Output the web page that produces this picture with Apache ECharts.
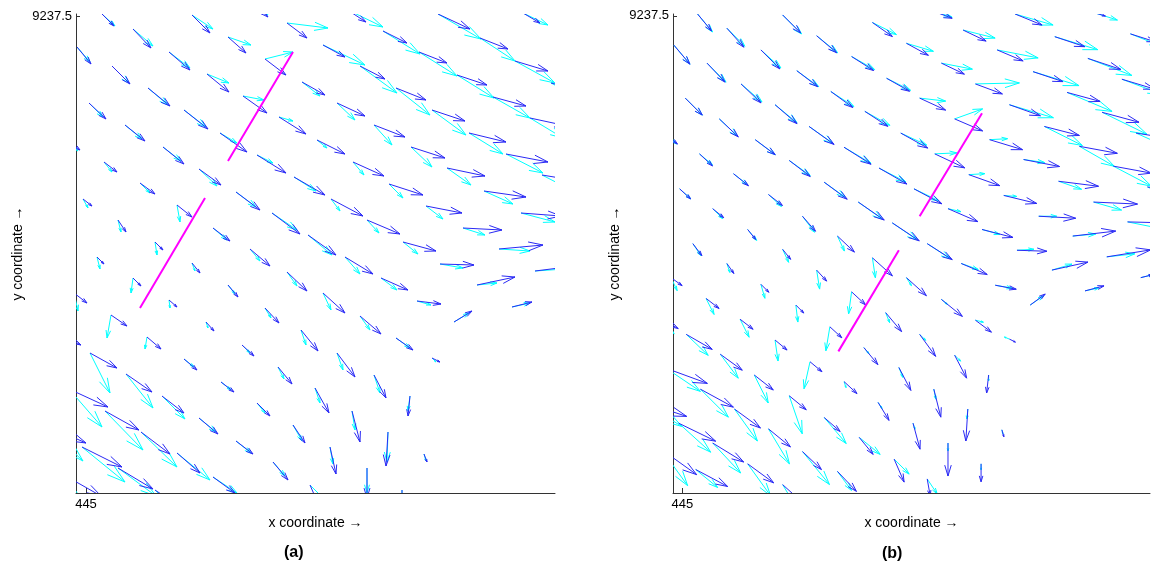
<!DOCTYPE html>
<html><head><meta charset="utf-8">
<script src="https://cdn.jsdelivr.net/npm/echarts@6/dist/echarts.min.js"></script>
<style>html,body{margin:0;padding:0;background:#fff}#c{width:1151px;height:568px}</style>
</head><body><div id="c"></div>
<script>
// Mesh node coordinates (easting / northing, metres)
const baseX = [445437,445474,445352,445394,445429,445465,445260,445297,445333,445371,445407,445444,445480,
445164,445201,445237,445274,445310,445346,445383,445420,445456,445492,
445069,445106,445142,445179,445216,445251,445288,445325,445361,445398,445435,445471,
445016,445047,445083,445121,445157,445193,445231,445267,445303,445340,445377,445413,445449,445485,
444991,445026,445062,445098,445134,445171,445208,445245,445281,445317,445354,445391,445426,
445003,445039,445077,445113,445150,445186,445222,445259,445295,445331,445368,
444982,445018,445054,445091,445127,445164,445201,445237,445274,445310,445346,
444997,445032,445069,445106,445142,445179,445215,445251,445288,445324,
445011,445047,445083,445120,445156,445192,445229,445266,445302,445338,
444988,445025,445061,445098,445135,445171,445207,445244,445281,445316,
444968,445004,445040,445076,445113,445150,445187,445224,445259,
444983,445019,445055,445091,445127,445164,
444959,444996,445032,445069,445106,
444978,445014];
const baseY = [9237503,9237481,9237502,9237478,9237455,9237433,9237507,9237485,9237464,9237441,9237419,9237398,9237376,
9237515,9237493,9237471,9237450,9237428,9237406,9237383,9237362,9237341,9237319,
9237523,9237501,9237479,9237457,9237434,9237413,9237391,9237369,9237348,9237325,9237303,9237282,
9237502,9237487,9237464,9237442,9237420,9237399,9237376,9237354,9237332,9237310,9237288,9237267,9237245,9237223,
9237469,9237450,9237428,9237406,9237383,9237361,9237339,9237317,9237296,9237274,9237252,9237231,9237209,
9237413,9237391,9237369,9237347,9237324,9237303,9237281,9237259,9237238,9237215,9237194,
9237375,9237354,9237333,9237311,9237288,9237267,9237244,9237223,9237200,9237178,9237158,
9237317,9237296,9237274,9237253,9237231,9237208,9237186,9237163,9237141,9237120,
9237259,9237238,9237216,9237194,9237171,9237149,9237128,9237105,9237084,9237062,
9237223,9237201,9237179,9237157,9237134,9237113,9237091,9237069,9237048,9237026,
9237185,9237163,9237142,9237120,9237098,9237075,9237054,9237031,9237010,
9237127,9237105,9237084,9237063,9237039,9237018,
9237091,9237069,9237048,9237026,9237004,
9237041,9237020];

// Panel (a) vectors [u, v]
const blueA = [[17,-10],[25,-8],[32,-15],[28,-11],[33,-10],[35,-9],[20,-13],[24,-12],[28,-11],[30,-10],[33,-9],[37,-8],[40,-7],
[18,-16],[20,-15],[22,-12],[25,-13],[30,-12],[33,-11],[37,-9],[42,-8],[42,-7],[42,-6],
[17,-18],[18,-18],[18,-16],[21,-16],[23,-13],[28,-13],[31,-12],[34,-11],[38,-8],[42,-6],[40,-3],[42,-1],
[12,-12],[18,-19],[21,-18],[22,-18],[24,-17],[27,-17],[28,-14],[31,-14],[34,-11],[36,-7],[39,-2],[44,4],[40,5],[20,4],
[14,-17],[18,-18],[22,-18],[24,-19],[27,-19],[29,-18],[31,-18],[32,-17],[33,-14],[33,-9],[34,-1],[38,8],[20,5],
[17,-16],[20,-16],[21,-17],[22,-16],[24,-18],[28,-21],[28,-20],[28,-17],[27,-12],[24,-3],[18,11],
[12,-9],[13,-10],[15,-11],[15,-12],[17,-13],[20,-17],[20,-19],[22,-20],[21,-18],[17,-12],[8,-4],
[9,-7],[8,-12],[8,-8],[8,-10],[10,-12],[14,-15],[17,-21],[18,-24],[12,-23],[-2,-20],
[7,-7],[8,-8],[8,-7],[8,-9],[12,-11],[14,-17],[14,-25],[8,-31],[-2,-34],[3,-8],
[13,-10],[16,-11],[14,-12],[13,-11],[13,-10],[13,-13],[12,-18],[6,-27],[0,-30],[0,-18],
[27,-14],[27,-15],[26,-18],[22,-17],[19,-16],[17,-13],[15,-18],[10,-23],[3,-17],
[39,-18],[34,-19],[29,-22],[23,-20],[22,-16],[19,-20],
[41,-18],[40,-20],[35,-21],[30,-20],[20,-18],
[37,-21],[34,-18]];
const cyanA = [[25,-12],[30,-12],[43,-25],[35,-23],[40,-22],[38,-20],[37,-18],[37,-23],[38,-24],[37,-23],[37,-21],[33,-20],[35,-19],
[18,-14],[41,-5],[42,-20],[37,-27],[34,-27],[34,-25],[34,-21],[37,-19],[35,-18],[35,-16],
[17,-16],[21,-14],[23,-8],[28,7],[18,-14],[18,-17],[18,-20],[21,-20],[24,-17],[29,-13],[34,-9],[34,-7],
[13,-12],[20,-17],[21,-16],[22,-9],[21,-4],[14,-4],[10,-8],[11,-13],[14,-14],[17,-13],[22,-7],[31,-2],[30,2],[15,3],
[13,-15],[17,-17],[20,-17],[22,-17],[17,-10],[16,-8],[22,-14],[9,-12],[12,-13],[15,-12],[23,-4],[20,2],[18,4],
[14,-14],[17,-14],[18,-14],[18,-17],[20,-15],[25,-17],[24,-20],[15,-17],[16,-12],[14,-4],[15,9],
[10,-10],[8,-10],[10,-10],[3,-17],[14,-12],[10,-12],[10,-14],[8,-17],[10,-14],[14,-10],[4,-4],
[5,-9],[3,-12],[2,-13],[3,-8],[7,-9],[6,-10],[5,-15],[6,-17],[6,-18],[-2,-15],
[3,-12],[-2,-15],[1,-8],[2,-6],[8,-8],[6,-12],[5,-15],[3,-19],[-1,-30],[2,-7],
[4,-18],[-4,-23],[-2,-12],[10,-8],[10,-8],[8,-10],[9,-16],[3,-17],[0,-25],[0,-10],
[18,-36],[20,-40],[27,-34],[23,-23],[17,-14],[15,-12],[12,-14],[15,-15],[10,-15],
[33,-38],[38,-39],[36,-35],[33,-27],[24,-16],[14,-19],
[38,-36],[43,-35],[38,-28],[30,-30],[12,-20],
[28,-38],[22,-18]];

// Panel (b) vectors [u, v]
const blueB = [[10,-3],[25,-8],[27,-11],[30,-10],[33,-11],[33,-10],[24,-9],[23,-11],[26,-11],[30,-10],[33,-9],[37,-10],[38,-6],
[15,-10],[20,-14],[22,-12],[23,-11],[27,-10],[31,-11],[35,-9],[38,-7],[38,-7],[40,-6],
[17,-17],[18,-18],[20,-17],[22,-14],[23,-13],[26,-12],[28,-12],[33,-10],[36,-7],[40,-5],[44,-2],[40,-1],
[14,-17],[17,-19],[19,-19],[21,-16],[22,-16],[23,-15],[27,-15],[30,-14],[31,-11],[33,-8],[37,-2],[43,5],[44,7],[12,3],
[16,-19],[18,-19],[20,-19],[22,-19],[25,-18],[27,-17],[28,-16],[28,-15],[30,-13],[31,-8],[30,-1],[36,8],[19,5],
[17,-17],[19,-18],[20,-15],[21,-16],[23,-17],[26,-18],[27,-18],[25,-16],[26,-11],[21,-4],[15,11],
[12,-10],[13,-12],[15,-12],[14,-11],[13,-15],[17,-16],[20,-18],[20,-18],[21,-17],[16,-12],[6,-3],
[11,-10],[11,-9],[8,-10],[8,-10],[10,-11],[14,-13],[16,-19],[16,-22],[12,-23],[-2,-18],
[9,-12],[7,-10],[8,-8],[8,-8],[12,-11],[14,-17],[12,-23],[7,-28],[-2,-32],[2,-7],
[11,-8],[13,-10],[13,-10],[12,-10],[12,-10],[13,-12],[11,-18],[7,-26],[0,-33],[0,-18],
[26,-15],[26,-15],[22,-16],[19,-15],[17,-14],[16,-14],[14,-17],[10,-23],[3,-17],
[41,-15],[33,-18],[26,-19],[22,-18],[19,-18],[19,-20],
[43,-14],[37,-18],[31,-19],[26,-19],[20,-18],
[35,-25],[32,-17]];
const cyanB = [[22,-7],[30,-12],[38,-11],[43,-13],[44,-17],[40,-15],[24,-8],[32,-8],[41,-8],[46,-14],[45,-19],[45,-22],[40,-18],
[15,-10],[24,-12],[27,-8],[31,-6],[44,1],[44,-13],[38,-19],[35,-20],[38,-20],[38,-18],
[17,-17],[19,-19],[21,-17],[23,-13],[24,-12],[26,-3],[28,10],[18,1],[21,-3],[23,-8],[28,-8],[35,-7],
[15,-18],[18,-18],[20,-18],[22,-16],[23,-15],[25,-14],[26,-12],[22,1],[16,1],[13,-1],[18,0],[23,2],[28,3],[12,3],
[16,-19],[19,-19],[21,-18],[22,-18],[24,-17],[27,-16],[27,-14],[25,-12],[13,-3],[18,-5],[17,1],[20,6],[14,3],
[17,-17],[18,-17],[20,-15],[21,-15],[21,-15],[24,-17],[25,-17],[23,-15],[17,-6],[17,-3],[13,9],
[11,-10],[13,-11],[14,-11],[13,-12],[12,-16],[7,-15],[3,-20],[5,-8],[6,-5],[8,-2],[-5,2],
[11,-10],[10,-10],[9,-11],[6,-13],[3,-19],[-3,-22],[4,-10],[6,-6],[6,-6],[0,-6],
[8,-12],[3,-9],[4,-14],[2,-17],[-4,-24],[5,-6],[4,-10],[2,-10],[-1,-10],[1,-4],
[6,-13],[8,-16],[9,-18],[3,-21],[-6,-27],[2,-6],[4,-6],[2,-6],[0,-8],[0,-6],
[22,-20],[22,-21],[18,-24],[14,-28],[13,-38],[22,-26],[21,-17],[15,-15],[10,-15],
[34,-23],[28,-28],[23,-32],[21,-35],[27,-33],[14,-19],
[38,-24],[32,-29],[28,-30],[23,-32],[12,-20],
[26,-36],[22,-18]];

// Magenta section lines [[x1,y1],[x2,y2]]
const linesA = [[[445142,9237355],[445207,9237464]], [[445054,9237208],[445119,9237318]]];
const linesB = [[[445251,9237288],[445317,9237397]], [[445165,9237145],[445229,9237252]]];

const xTicks = [445000];
const yTicks = [9237500];
const xLabel = 'x coordinate \u2192';
const yLabel = 'y coordinate \u2192';
const panelLabels = ['(a)', '(b)'];

// per-panel quiver scale (panel b is drawn with a wider extent)
const quiverScale = [1, 1/0.945];

const FONT = '"Liberation Sans", Arial, Helvetica, sans-serif';

function arrowSeries(gi, vecs, color) {
  const s = quiverScale[gi];
  return {
    type: 'custom', xAxisIndex: gi, yAxisIndex: gi, silent: true, animation: false,
    data: baseX.map((x, i) => [x, baseY[i], vecs[i][0], vecs[i][1]]),
    encode: { x: 0, y: 1 },
    renderItem(params, api) {
      const x = api.value(0), y = api.value(1);
      const u = api.value(2) * s, v = api.value(3) * s;
      const p0 = api.coord([x, y]), p1 = api.coord([x + u, y + v]);
      const dx = p1[0] - p0[0], dy = p1[1] - p0[1];
      const a = 0.33, b = 0.3;
      const h1 = [p1[0] - a * (dx + b * dy), p1[1] - a * (dy - b * dx)];
      const h2 = [p1[0] - a * (dx - b * dy), p1[1] - a * (dy + b * dx)];
      const cs = params.coordSys;
      const st = { stroke: color, lineWidth: 1, fill: null };
      return {
        type: 'group',
        clipPath: { type: 'rect', shape: { x: cs.x, y: cs.y, width: cs.width, height: cs.height } },
        children: [
          { type: 'polyline', shape: { points: [p0, p1] }, style: st },
          { type: 'polyline', shape: { points: [h1, p1, h2] }, style: st }
        ]
      };
    }
  };
}

function lineSeries(gi, seg) {
  return {
    type: 'line', xAxisIndex: gi, yAxisIndex: gi, data: seg, symbol: 'none', silent: true,
    animation: false, clip: true, lineStyle: { color: '#ff00ff', width: 2 }, z: 5
  };
}

function xAxis(gi, min, max) {
  return {
    type: 'value', gridIndex: gi, min, max, position: 'bottom',
    axisLine: { show: true, onZero: false, lineStyle: { color: '#333', width: 1 } },
    axisTick: { show: true, inside: true, length: 5, customValues: xTicks, lineStyle: { color: '#333' } },
    axisLabel: { customValues: xTicks, formatter: v => String(v / 1000), fontSize: 13, color: '#000', fontFamily: FONT, margin: 5 },
    splitLine: { show: false },
    name: xLabel, nameLocation: 'middle', nameGap: 23,
    nameTextStyle: { fontSize: 14, color: '#000', fontFamily: FONT }
  };
}
function yAxis(gi, min, max) {
  return {
    type: 'value', gridIndex: gi, min, max, position: 'left',
    axisLine: { show: true, onZero: false, lineStyle: { color: '#333', width: 1 } },
    axisTick: { show: true, inside: true, length: 4, customValues: yTicks, lineStyle: { color: '#333' } },
    axisLabel: { customValues: yTicks, formatter: v => String(v / 1000), fontSize: 13, color: '#000', fontFamily: FONT, margin: 4 },
    splitLine: { show: false },
    name: yLabel, nameLocation: 'middle', nameGap: 51, nameRotate: 90,
    nameTextStyle: { fontSize: 14, color: '#000', fontFamily: FONT }
  };
}

const chart = echarts.init(document.getElementById('c'), null, { renderer: 'canvas' });
chart.setOption({
  backgroundColor: '#fff',
  animation: false,
  grid: [
    { left: 76, top: 14, width: 479, height: 479 },
    { left: 673, top: 14, width: 477, height: 479 }
  ],
  xAxis: [xAxis(0, 444990, 445469), xAxis(1, 444990, 444990 + 477 / 0.945)],
  yAxis: [yAxis(0, 9237023, 9237502), yAxis(1, 9237502 - 479 / 0.945, 9237502)],
  graphic: [
    { type: 'text', left: 284, top: 545, style: { text: panelLabels[0], font: 'bold 16px ' + FONT, fill: '#000' } },
    { type: 'text', left: 882, top: 546, style: { text: panelLabels[1], font: 'bold 16px ' + FONT, fill: '#000' } }
  ],
  series: [
    arrowSeries(0, cyanA, '#00ffff'),
    arrowSeries(0, blueA, '#2a2af5'),
    lineSeries(0, linesA[0]), lineSeries(0, linesA[1]),
    arrowSeries(1, cyanB, '#00ffff'),
    arrowSeries(1, blueB, '#2a2af5'),
    lineSeries(1, linesB[0]), lineSeries(1, linesB[1])
  ]
});
</script>
</body></html>
